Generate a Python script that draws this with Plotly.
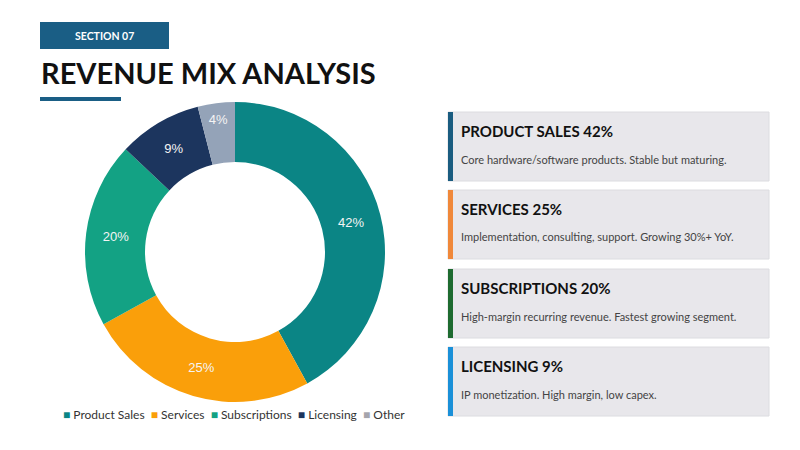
import plotly.graph_objects as go

# ---- data ----
categories = ["Product Sales", "Services", "Subscriptions", "Licensing", "Other"]
shares = [42, 25, 20, 9, 4]
slice_colors = ["#0B8585", "#FA9F0A", "#13A284", "#1C355E", "#94A3B8"]
legend_colors = ["#0B8585", "#FA9F0A", "#13A284", "#1C355E", "#A5A5AD"]

card_names = ["PRODUCT SALES", "SERVICES", "SUBSCRIPTIONS", "LICENSING"]
card_texts = [
    "Core hardware/software products. Stable but maturing.",
    "Implementation, consulting, support. Growing 30%+ YoY.",
    "High-margin recurring revenue. Fastest growing segment.",
    "IP monetization. High margin, low capex.",
]
card_accents = ["#1A5C80", "#F0883A", "#1E6B30", "#1A90D8"]

W, H = 800, 450
OFF = 8  # page body margin offset
FONT = "Lato"


def px(x):
    return (x - OFF) / W


def py(y):
    return 1 - (y - OFF) / H


fig = go.Figure()
fig.add_trace(go.Pie(
    labels=categories,
    values=shares,
    hole=0.6,
    sort=False,
    direction="clockwise",
    rotation=0,
    marker=dict(colors=slice_colors, line=dict(width=0)),
    texttemplate="%{value}%",
    textposition="inside",
    insidetextorientation="horizontal",
    textfont=dict(family="Liberation Sans, Arial", size=13, color="#F4F4F4"),
    domain=dict(x=[px(85), px(385)], y=[py(402), py(102)]),
    showlegend=False,
))

shapes = []
annotations = []

# header
shapes.append(dict(type="rect", xref="paper", yref="paper",
                   x0=px(40), x1=px(169), y0=py(49), y1=py(22),
                   fillcolor="#1A5E85", line=dict(width=0)))
annotations.append(dict(x=px(104.5), y=py(35.5), xref="paper", yref="paper",
                        text="<b>SECTION 07</b>", showarrow=False,
                        font=dict(family=FONT, size=10.5, color="white"),
                        xanchor="center", yanchor="middle"))
annotations.append(dict(x=px(39), y=py(72), xref="paper", yref="paper",
                        text="<b>REVENUE MIX ANALYSIS</b>", showarrow=False,
                        font=dict(family=FONT, size=29, color="#111111"),
                        xanchor="left", yanchor="middle"))
shapes.append(dict(type="rect", xref="paper", yref="paper",
                   x0=px(40), x1=px(121), y0=py(101), y1=py(97),
                   fillcolor="#1A5E85", line=dict(width=0)))

# legend (built from categories / colours)
legend_html = "  ".join(
    f"<span style='color:{c}'>■</span> {name}" for name, c in zip(categories, legend_colors)
)
annotations.append(dict(x=px(234), y=py(414), xref="paper", yref="paper",
                        text=legend_html, showarrow=False,
                        font=dict(family=FONT, size=12, color="#333333"),
                        xanchor="center", yanchor="middle"))

# cards
card_tops = [112, 190, 269, 347]
card_h = 69
for i, name in enumerate(card_names):
    top = card_tops[i]
    bot = top + card_h
    shapes.append(dict(type="rect", xref="paper", yref="paper",
                       x0=px(448), x1=px(769), y0=py(bot), y1=py(top),
                       fillcolor="#E8E7EB", line=dict(color="#DCDCE0", width=1)))
    shapes.append(dict(type="rect", xref="paper", yref="paper",
                       x0=px(448), x1=px(453), y0=py(bot), y1=py(top),
                       fillcolor=card_accents[i], line=dict(width=0)))
    annotations.append(dict(x=px(459), y=py(top + 19), xref="paper", yref="paper",
                            text=f"<b>{name} {shares[i]}%</b>", showarrow=False,
                            font=dict(family=FONT, size=15, color="#111111"),
                            xanchor="left", yanchor="middle"))
    annotations.append(dict(x=px(459), y=py(top + 47), xref="paper", yref="paper",
                            text=card_texts[i], showarrow=False,
                            font=dict(family=FONT, size=11, color="#444444"),
                            xanchor="left", yanchor="middle"))

fig.update_layout(
    width=W, height=H,
    margin=dict(l=0, r=0, t=0, b=0, autoexpand=False),
    paper_bgcolor="white",
    plot_bgcolor="white",
    shapes=shapes,
    annotations=annotations,
    showlegend=False,
)

fig.write_html("out.html")
